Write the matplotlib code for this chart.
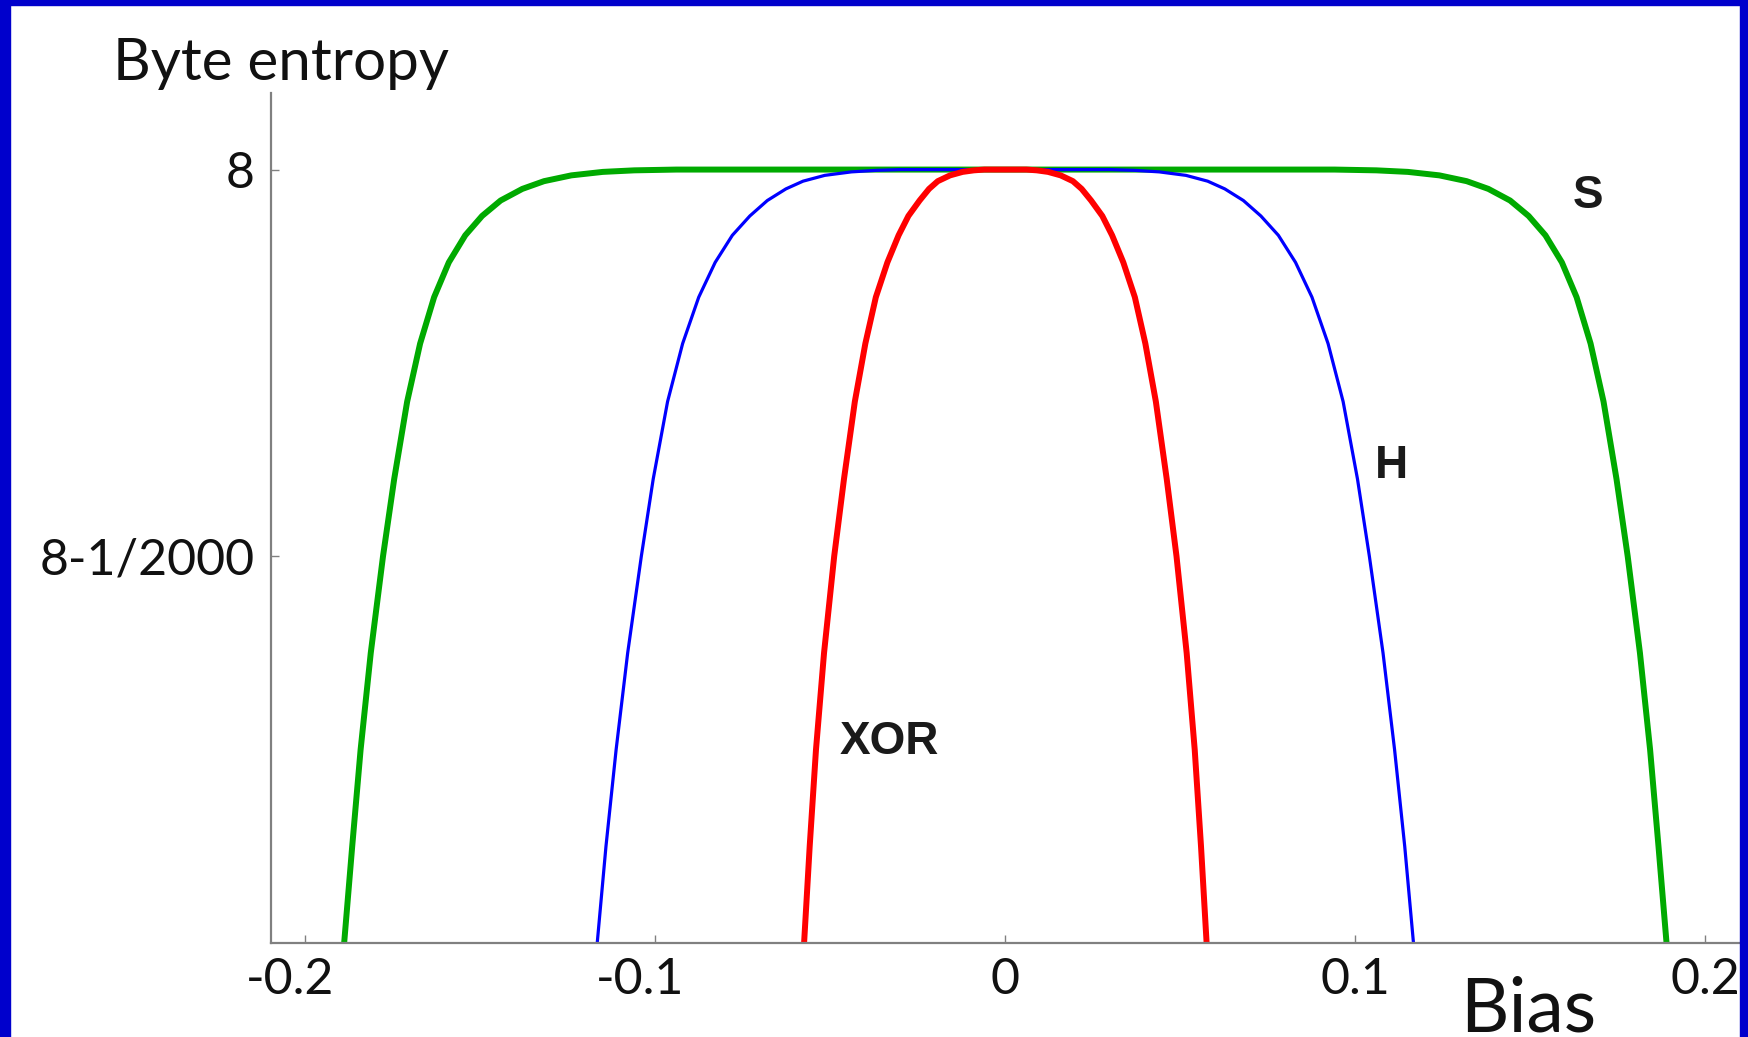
import matplotlib.pyplot as plt
import matplotlib.transforms as mtransforms
from matplotlib.patches import Rectangle

# Entropy drop below 8 bits, in units of 1/2000 bit (0 = "8", 1 = "8-1/2000"),
# at which the bias of each curve was read off the picture, left side then right side.
levels = [2.0, 1.75, 1.5, 1.25, 1.0, 0.8, 0.6, 0.45, 0.33, 0.24,
          0.17, 0.12, 0.08, 0.05, 0.03, 0.015, 0.006, 0.002, 0.0]
levels_both = levels + levels[::-1]

s_bias = [-0.1889, -0.1866, -0.1842, -0.1813, -0.1778, -0.1746, -0.1709, -0.1672, -0.1632, -0.1590,
          -0.1543, -0.1495, -0.1442, -0.1380, -0.1318, -0.1240, -0.1150, -0.1060, -0.0940,
          0.0940, 0.1060, 0.1150, 0.1240, 0.1318, 0.1380, 0.1442, 0.1495,
          0.1543, 0.1590, 0.1632, 0.1672, 0.1709, 0.1746, 0.1778, 0.1813, 0.1842, 0.1866, 0.1889]

h_bias = [-0.1166, -0.1141, -0.1112, -0.1079, -0.1040, -0.1006, -0.0965, -0.0922, -0.0876, -0.0829,
          -0.0780, -0.0730, -0.0680, -0.0627, -0.0578, -0.0516, -0.0440, -0.0369, -0.0300,
          0.0300, 0.0369, 0.0440, 0.0516, 0.0578, 0.0627, 0.0680, 0.0730,
          0.0780, 0.0829, 0.0876, 0.0922, 0.0965, 0.1006, 0.1040, 0.1079, 0.1112, 0.1141, 0.1166]

xor_bias = [-0.0575, -0.0559, -0.0541, -0.0518, -0.0489, -0.0461, -0.0430, -0.0400, -0.0370, -0.0337,
            -0.0305, -0.0277, -0.0245, -0.0218, -0.0193, -0.0158, -0.0122, -0.0090, -0.0060,
            0.0060, 0.0090, 0.0122, 0.0158, 0.0193, 0.0218, 0.0245, 0.0277,
            0.0305, 0.0337, 0.0370, 0.0400, 0.0430, 0.0461, 0.0489, 0.0518, 0.0541, 0.0559, 0.0575]

x_ticks = [-0.2, -0.1, 0.0, 0.1, 0.2]
x_tick_labels = ['-0.2', '-0.1', '0', '0.1', '0.2']
y_ticks = [8.0, 8.0 - 1 / 2000]
y_tick_labels = ['8', '8-1/2000']


def entropy(drops):
    return [8.0 - d / 2000 for d in drops]


fig = plt.figure(figsize=(17.49, 10.37), dpi=100, facecolor='white')
W, H = 1749, 1037

# blue slide frame
frame = '#0000cc'
fig.add_artist(Rectangle((0, 0), 10 / W, 1, transform=fig.transFigure, color=frame, zorder=10))
fig.add_artist(Rectangle((0, 1 - 5 / H), 1, 5 / H, transform=fig.transFigure, color=frame, zorder=10))
fig.add_artist(Rectangle((1 - 9 / W, 0), 9 / W, 1, transform=fig.transFigure, color=frame, zorder=10))

ax = fig.add_axes([271 / W, 1 - 943 / H, (1739 - 271) / W, (943 - 93) / H])
ax.plot(s_bias, entropy(levels_both), color='#00aa00', linewidth=4.3,
        solid_capstyle='butt', solid_joinstyle='round')
ax.plot(h_bias, entropy(levels_both), color='#0000ff', linewidth=2.3,
        solid_capstyle='butt', solid_joinstyle='round')
ax.plot(xor_bias, entropy(levels_both), color='#ff0000', linewidth=4.3,
        solid_capstyle='butt', solid_joinstyle='round')

ax.set_xlim(-0.2098, 0.2096)
ax.set_ylim(8.0 - 1 / 1000, 8.0 + 0.000099)

for side in ['top', 'right']:
    ax.spines[side].set_visible(False)
for side in ['left', 'bottom']:
    ax.spines[side].set_color('#808080')
    ax.spines[side].set_linewidth(1.6)

ax.set_xticks(x_ticks)
ax.set_xticklabels(x_tick_labels)
ax.set_yticks(y_ticks)
ax.set_yticklabels(y_tick_labels)
ax.tick_params(direction='in', length=6, width=1, color='#808080',
               labelsize=36, labelcolor='#111111')
ax.tick_params(axis='x', pad=10)
ax.tick_params(axis='y', pad=12)
for lab in ax.get_xticklabels() + ax.get_yticklabels():
    lab.set_family('Lato')

# centre negative labels on the number, not on the minus sign
shift = mtransforms.ScaledTranslation(-15 / 100, 0, fig.dpi_scale_trans)
for lab in ax.get_xticklabels():
    if lab.get_text().startswith('-'):
        lab.set_transform(lab.get_transform() + shift)

fig.text(113 / W, 1 - 80 / H, 'Byte entropy', family='Lato',
         fontsize=42, color='#111111', ha='left', va='baseline')
fig.text(1460 / W, 1 - 1031 / H, 'Bias', family='Lato',
         fontsize=54, color='#111111', ha='left', va='baseline')

label_style = dict(family='Liberation Sans', fontweight='bold', fontsize=33,
                   color='#1a1a1a', ha='center', va='baseline')
ax.text(0.1664, 8.0 - 0.0996 / 2000, 'S', **label_style)
ax.text(0.1103, 8.0 - 0.798 / 2000, 'H', **label_style)
ax.text(-0.0331, 8.0 - 1.510 / 2000, 'XOR', **label_style)

fig.savefig('out.png', dpi=100, facecolor='white')
